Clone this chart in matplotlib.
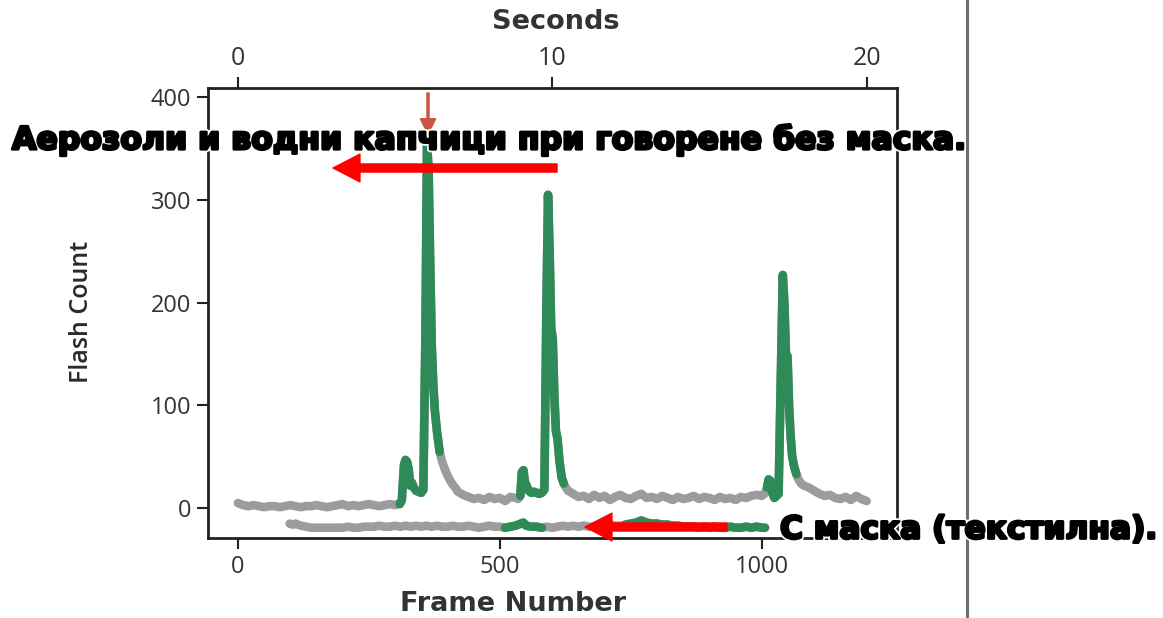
import numpy as np
import matplotlib
matplotlib.use("Agg")
import matplotlib.pyplot as plt
import matplotlib.patheffects as pe
from matplotlib.lines import Line2D

# upper trace: speaking without mask (frame number, flash count)
frames_nomask = [0, 10, 20, 30, 40, 50, 60, 70, 80, 90, 100, 110, 120, 130, 140, 150,
                 160, 170, 180, 190, 200, 210, 220, 230, 240, 250, 260, 270, 280, 290, 300,
                 305, 309, 313, 317, 320, 323, 326, 329, 332, 336, 340, 345, 350, 354,
                 358, 361, 364, 367, 370, 373, 376, 380, 385, 390, 395, 400, 405, 410,
                 415, 420, 430, 440, 450, 460, 470, 480, 490, 500, 510, 520, 530, 535,
                 539, 542, 545, 548, 551, 555, 560, 565, 570, 575, 580, 585, 589, 592,
                 595, 598, 601, 604, 607, 610, 614, 618, 622, 626, 630, 640, 650, 660,
                 670, 680, 690, 700, 710, 720, 730, 740, 750, 760, 770, 780, 790, 800,
                 810, 820, 830, 840, 850, 860, 870, 880, 890, 900, 910, 920, 930, 940,
                 950, 960, 970, 980, 990, 1000, 1005, 1010, 1013, 1016, 1020, 1024,
                 1028, 1032, 1036, 1040, 1043, 1046, 1049, 1052, 1055, 1058, 1062, 1066,
                 1070, 1075, 1080, 1090, 1100, 1110, 1120, 1130, 1140, 1150, 1160, 1170,
                 1180, 1190, 1200]
counts_nomask = [5, 3, 2, 3, 2, 1, 2, 2, 1, 2, 3, 2, 1, 2, 2, 3,
                 2, 1, 2, 3, 4, 2, 3, 2, 3, 4, 3, 2, 3, 4, 3,
                 4, 4, 8, 42, 47, 45, 38, 22, 25, 20, 17, 16, 15, 18,
                 170, 355, 330, 240, 160, 120, 95, 75, 55, 45, 38, 32, 27, 23,
                 20, 16, 13, 11, 9, 10, 8, 11, 9, 10, 7, 11, 10, 9,
                 12, 35, 37, 25, 22, 17, 15, 16, 15, 14, 15, 18, 200, 305,
                 250, 175, 165, 110, 75, 68, 45, 30, 24, 20, 17, 14, 11, 12,
                 9, 13, 10, 12, 8, 11, 13, 10, 9, 12, 14, 10, 11, 9,
                 12, 10, 8, 11, 9, 10, 12, 9, 11, 10, 8, 11, 9, 10,
                 8, 11, 10, 12, 13, 12, 14, 20, 28, 27, 15, 10,
                 12, 14, 120, 227, 200, 150, 148, 100, 70, 50, 40, 33,
                 28, 24, 22, 20, 17, 14, 12, 13, 10, 9, 11, 8,
                 12, 9, 7]
green_nomask = [(309, 385), (539, 622), (1008, 1066)]

# lower trace: speaking with a cloth mask (offset below zero)
frames_mask = [99, 105, 110, 120, 130, 140, 150, 160, 170, 180, 190, 200, 210, 220,
               230, 240, 250, 260, 270, 280, 290, 300, 310, 320, 330, 340, 350, 360,
               370, 380, 390, 400, 410, 420, 430, 440, 450, 460, 470, 480, 490, 500,
               510, 520, 530, 540, 545, 550, 560, 570, 580, 590, 600, 610, 620, 630,
               640, 650, 660, 670, 680, 690, 700, 710, 720, 730, 740, 750, 760, 770,
               780, 790, 800, 810, 820, 830, 840, 850, 860, 870, 880, 890, 900, 910,
               920, 930, 940, 950, 960, 970, 980, 990, 1000, 1006]
counts_mask = [-15, -16, -15, -17, -18, -19, -19, -19, -19, -19, -19, -19, -18, -19,
               -19, -18, -18, -18, -17, -18, -18, -17, -18, -17, -18, -17, -18, -17,
               -18, -17, -18, -18, -17, -18, -18, -17, -18, -19, -18, -17, -18, -18,
               -19, -18, -17, -15, -14, -17, -18, -18, -19, -18, -19, -18, -17, -18,
               -17, -18, -17, -18, -18, -17, -17, -16, -17, -17, -16, -15, -14, -12,
               -14, -15, -15, -16, -16, -17, -17, -18, -18, -18, -19, -18, -19, -18,
               -19, -19, -18, -19, -19, -18, -19, -18, -19, -19]
green_mask = [(510, 580), (735, 1006)]

FPS = 60
xticks_frames = [0, 500, 1000]
xticks_seconds = [0, 10, 20]
yticks = [0, 100, 200, 300, 400]

GRAY = "#9b9ba0"
GREEN = "#2e8b57"
LW = 6.2

fig = plt.figure(figsize=(11.63, 6.18), dpi=100)
ax = fig.add_axes([208 / 1163, 1 - 538 / 618, 689 / 1163, 450 / 618])


def draw_trace(fr, ct, spans):
    fr = np.array(fr, dtype=float)
    ct = np.array(ct, dtype=float)
    ax.plot(fr, ct, color=GRAY, lw=LW, solid_capstyle="round", solid_joinstyle="round")
    for a, b in spans:
        m = (fr >= a) & (fr <= b)
        ax.plot(fr[m], ct[m], color=GREEN, lw=LW, solid_capstyle="round",
                solid_joinstyle="round")


draw_trace(frames_nomask, counts_nomask, green_nomask)
draw_trace(frames_mask, counts_mask, green_mask)

ax.set_xlim(-57, 1258)
ax.set_ylim(-29, 409)
ax.set_xticks(xticks_frames)
ax.set_yticks(yticks)
tick_font = ["Open Sans", "DejaVu Sans"]
for lab in ax.get_xticklabels() + ax.get_yticklabels():
    lab.set_family(tick_font)
    lab.set_fontsize(17)
    lab.set_color("#333333")
ax.tick_params(direction="out", length=8, width=1.5, color="#222222", pad=4)
for s in ax.spines.values():
    s.set_linewidth(2)
    s.set_color("#222222")

sec = ax.secondary_xaxis("top", functions=(lambda f: f / FPS, lambda s: s * FPS))
sec.set_xticks(xticks_seconds)
sec.tick_params(direction="out", length=8, width=1.5, color="#222222", pad=4)
for lab in sec.get_xticklabels():
    lab.set_family(tick_font)
    lab.set_fontsize(18)
    lab.set_color("#333333")

label_font = ["DejaVu Sans"]
fig.text(556 / 1163, 1 - 22 / 618, "Seconds", ha="center", va="center",
         family=label_font, fontsize=19.5, fontweight="bold", color="#333333")
fig.text(513 / 1163, 1 - 604 / 618, "Frame Number", ha="center", va="center",
         family=label_font, fontsize=19.5, fontweight="bold", color="#333333")
fig.text(82 / 1163, 1 - 312 / 618, "Flash Count", ha="center", va="center",
         rotation=90, family=["Open Sans", "DejaVu Sans"], fontsize=18,
         fontweight="semibold", color="#2a2a2a")

# annotations (Bulgarian captions with white halo)
halo = [pe.Stroke(linewidth=4.5, foreground="white"),
        pe.Stroke(linewidth=2.0, foreground="black"), pe.Normal()]
fig.text(12 / 1163, 1 - 140 / 618, "Аерозоли и водни капчици при говорене без маска.",
         ha="left", va="center", fontsize=22.7, fontweight="bold", color="black",
         family="DejaVu Sans", path_effects=halo)
fig.text(780 / 1163, 1 - 530 / 618, "С маска (текстилна).",
         ha="left", va="center", fontsize=22.5, fontweight="bold", color="black",
         family="DejaVu Sans", path_effects=halo)

big_arrow = dict(arrowstyle="simple,head_length=0.97,head_width=1.0,tail_width=0.29",
                 color="#ff0000", mutation_scale=20, shrinkA=0, shrinkB=0)
ax.annotate("", xy=(333, 618 - 168), xytext=(557, 618 - 168),
            xycoords="figure pixels", textcoords="figure pixels", arrowprops=big_arrow)
ax.annotate("", xy=(585, 618 - 527), xytext=(727, 618 - 527),
            xycoords="figure pixels", textcoords="figure pixels", arrowprops=big_arrow)
ax.annotate("", xy=(428, 618 - 134), xytext=(428, 618 - 93),
            xycoords="figure pixels", textcoords="figure pixels",
            arrowprops=dict(arrowstyle="simple,head_length=1.1,head_width=1.1,tail_width=0.15",
                            color="#c8553f", mutation_scale=10, shrinkA=0, shrinkB=0))

fig.add_artist(Line2D([967 / 1163, 967 / 1163], [0, 1], transform=fig.transFigure,
                      color="#6e6e6e", lw=2.2))

fig.savefig("out.png", dpi=100)
